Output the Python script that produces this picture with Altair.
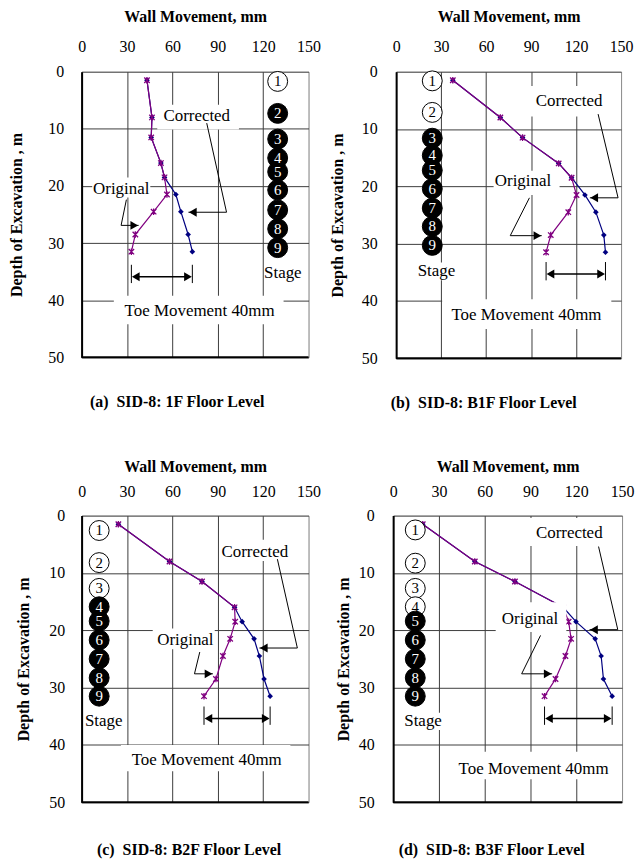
import altair as alt
import pandas as pd

FONT = "Liberation Serif"

# ---------------- data ----------------
DEPTH_M = [1.5, 8.0, 11.5, 16.0, 18.5, 21.5, 24.5, 28.5, 31.5]
STAGES = ["1", "2", "3", "4", "5", "6", "7", "8", "9"]

ORIGINAL_A = [43.2, 46.5, 46.0, 52.4, 54.8, 56.4, 47.6, 35.5, 32.9]
CORRECTED_A = [43.2, 46.5, 46.0, 52.4, 54.8, 62.3, 65.6, 70.4, 73.2]
ORIGINAL_B = [37.8, 69.5, 84.3, 108.4, 117.0, 120.3, 114.8, 103.1, 100.0]
CORRECTED_B = [37.8, 69.5, 84.3, 108.4, 117.0, 125.9, 133.2, 138.5, 139.6]
ORIGINAL_C = [24.3, 58.1, 79.6, 101.1, 101.5, 98.2, 93.4, 88.8, 80.9]
CORRECTED_C = [24.3, 58.1, 79.6, 101.1, 106.1, 114.0, 117.5, 120.6, 124.6]
ORIGINAL_D = [19.4, 53.5, 79.8, 111.4, 115.0, 116.6, 112.9, 106.4, 99.2]
CORRECTED_D = [19.4, 53.5, 79.8, 111.4, 119.8, 132.4, 136.3, 137.8, 143.5]

STAGE_DEPTH_A = [1.7, 7.3, 11.8, 15.1, 17.5, 20.7, 24.2, 27.5, 30.8]
STAGE_DEPTH_B = [1.6, 7.1, 11.6, 14.6, 17.2, 20.4, 23.8, 27.0, 30.3]
STAGE_DEPTH_C = [2.6, 8.2, 12.7, 15.9, 18.4, 21.7, 25.0, 28.3, 31.5]
STAGE_DEPTH_D = [2.5, 8.3, 12.7, 15.9, 18.4, 21.7, 25.0, 28.3, 31.5]
OPEN_STAGE_COUNT = [1, 2, 3, 4]

X_TICKS = [0, 30, 60, 90, 120, 150]
Y_TICKS = [0, 10, 20, 30, 40, 50]
CAPTIONS = [
    "(a) \u00a0SID-8: 1F Floor Level",
    "(b) \u00a0SID-8: B1F Floor Level",
    "(c) \u00a0SID-8: B2F Floor Level",
    "(d) \u00a0SID-8: B3F Floor Level",
]
X_TITLE = "Wall Movement, mm"
Y_TITLE = "Depth of Excavation , m"
TOE_LABEL = "Toe Movement 40mm"

# ---------------- annotation placement (data units) ----------------
PANELS = [
    dict(orig=ORIGINAL_A, corr=CORRECTED_A, sdepth=STAGE_DEPTH_A, n_open=OPEN_STAGE_COUNT[0],
         stage_x=129.6, stage_label=(133.0, 35.3), stage_box=None,
         corr_text=(76.1, 7.8), corr_box=(50.0, 104.0, 5.8, 10.1),
         corr_path=[(82.7, 9.0), (95.8, 24.6), (70.6, 24.6)],
         orig_text=(26.2, 20.6), orig_box=(7.0, 45.4, 18.5, 22.0),
         orig_path=[(29.6, 22.4), (26.1, 26.9), (37.7, 26.9)],
         toe_y=35.9, toe_text=(78.0, 41.9), toe_box=(21.3, 133.5, 39.2, 44.2),
         width=228, height=287, ylab_pad=18, ytitle_pad=23.6, xlab_pad=17, xtitle_pad=14,
         cap_dx=-18, cap_off=29),
    dict(orig=ORIGINAL_B, corr=CORRECTED_B, sdepth=STAGE_DEPTH_B, n_open=OPEN_STAGE_COUNT[1],
         stage_x=24.1, stage_label=(26.9, 34.8), stage_box=(14.6, 39.6, 33.3, 36.4),
         corr_text=(115.3, 5.2), corr_box=(89.6, 140.0, 2.5, 7.8),
         corr_path=[(134.7, 7.4), (148.0, 22.0), (129.2, 22.0)],
         orig_text=(84.6, 19.1), orig_box=(65.0, 109.0, 17.3, 21.5),
         orig_path=[(88.9, 22.0), (76.1, 28.6), (97.1, 28.6)],
         toe_y=35.3, toe_text=(86.9, 42.4), toe_box=(30.7, 143.5, 39.7, 44.9),
         width=226, height=288, ylab_pad=19, ytitle_pad=15.9, xlab_pad=17, xtitle_pad=14,
         cap_dx=-25, cap_off=29),
    dict(orig=ORIGINAL_C, corr=CORRECTED_C, sdepth=STAGE_DEPTH_C, n_open=OPEN_STAGE_COUNT[2],
         stage_x=11.6, stage_label=(14.6, 35.9), stage_box=None,
         corr_text=(114.5, 6.4), corr_box=(91.0, 138.0, 4.2, 7.9),
         corr_path=[(129.4, 7.6), (142.6, 23.1), (117.5, 23.1)],
         orig_text=(68.6, 21.7), orig_box=(47.0, 88.0, 19.7, 23.3),
         orig_path=[(78.1, 23.8), (74.6, 27.6), (86.8, 27.6)],
         toe_y=35.4, toe_text=(82.7, 42.6), toe_box=(26.0, 138.0, 40.0, 44.6),
         width=228, height=288, ylab_pad=17, ytitle_pad=17.3, xlab_pad=16, xtitle_pad=9,
         cap_dx=-6, cap_off=32),
    dict(orig=ORIGINAL_D, corr=CORRECTED_D, sdepth=STAGE_DEPTH_D, n_open=OPEN_STAGE_COUNT[3],
         stage_x=14.5, stage_label=(19.6, 35.9), stage_box=(7.4, 32.4, 34.4, 37.4),
         corr_text=(115.4, 3.0), corr_box=(86.0, 145.0, 0.4, 5.3),
         corr_path=[(134.6, 5.4), (147.2, 19.9), (128.7, 19.9)],
         orig_text=(89.7, 18.1), orig_box=(67.2, 113.5, 15.1, 20.3),
         orig_path=[(96.6, 20.9), (84.2, 27.6), (104.2, 27.6)],
         toe_y=35.4, toe_text=(92.0, 44.2), toe_box=(34.6, 146.8, 41.2, 46.0),
         width=230, height=288, ylab_pad=19, ytitle_pad=6.6, xlab_pad=16, xtitle_pad=9,
         cap_dx=-16, cap_off=32),
]

ASTERISK = "M-1,-1L1,1M-1,1L1,-1M0,-1.2L0,1.2"
HEAD = 2.9  # arrow head half-length in mm
XS = alt.Scale(domain=[0, 150], nice=False, zero=False)
YS = alt.Scale(domain=[0, 50], nice=False, zero=False, reverse=True)
GRID = "#3c3c3c"


def panel(p, caption):
    xa = alt.Axis(orient="top", values=X_TICKS, format="d", title=X_TITLE,
                  titleFont=FONT, titleFontSize=16, titleFontWeight="bold", titleColor="black",
                  titlePadding=p["xtitle_pad"], labelFont=FONT, labelFontSize=16,
                  labelColor="black", labelPadding=p["xlab_pad"], ticks=False, domain=False,
                  labelFlush=False, labelOverlap=False, grid=True,
                  gridColor={"condition": {"test": "datum.value === 150", "value": "#8c8c8c"},
                             "value": GRID},
                  gridWidth=1)
    ya = alt.Axis(orient="left", values=Y_TICKS, format="d", title=Y_TITLE,
                  titleFont=FONT, titleFontSize=16, titleFontWeight="bold", titleColor="black",
                  titlePadding=p["ytitle_pad"], labelFont=FONT, labelFontSize=16,
                  labelColor="black", labelPadding=p["ylab_pad"], ticks=False, domain=True,
                  domainColor="black", domainWidth=2, labelFlush=False, labelOverlap=False,
                  grid=True, gridColor=GRID, gridWidth=1)

    def X(f):
        return alt.X(f, type="quantitative", scale=XS, axis=xa)

    def Y(f):
        return alt.Y(f, type="quantitative", scale=YS, axis=ya)

    ser = pd.DataFrame({"idx": list(range(len(DEPTH_M))), "depth": DEPTH_M,
                        "orig": p["orig"], "corr": p["corr"]})

    corr_line = alt.Chart(ser).mark_line(color="#000080", strokeWidth=1.2).encode(
        x=X("corr"), y=Y("depth"), order="idx:Q")
    corr_pts = alt.Chart(ser).mark_point(shape="diamond", filled=True, color="#000080",
                                         size=32, opacity=1).encode(x=X("corr"), y=Y("depth"))
    orig_line = alt.Chart(ser).mark_line(color="#800080", strokeWidth=1.2).encode(
        x=X("orig"), y=Y("depth"), order="idx:Q")
    orig_pts = alt.Chart(ser).mark_point(shape=ASTERISK, filled=False, color="#800080",
                                         size=30, strokeWidth=1.3, opacity=1).encode(
        x=X("orig"), y=Y("depth"))

    # white label boxes
    bl = [p["corr_box"], p["orig_box"], p["toe_box"]]
    if p["stage_box"] is not None:
        bl.append(p["stage_box"])
    boxes = pd.DataFrame({"x": [b[0] for b in bl], "x2": [b[1] for b in bl],
                          "y": [b[2] for b in bl], "y2": [b[3] for b in bl]})
    box_layer = alt.Chart(boxes).mark_rect(color="white", opacity=1).encode(
        x=X("x"), x2="x2", y=Y("y"), y2="y2")

    # stage circles
    n_open = p["n_open"]
    st = pd.DataFrame({"x": [p["stage_x"]] * len(STAGES), "depth": p["sdepth"], "label": STAGES,
                       "fill": ["white" if i < n_open else "black" for i in range(len(STAGES))],
                       "tcol": ["black" if i < n_open else "white" for i in range(len(STAGES))]})
    circles = alt.Chart(st).mark_point(shape="circle", filled=True, size=400, stroke="black",
                                       strokeWidth=1, opacity=1).encode(
        x=X("x"), y=Y("depth"), fill=alt.Fill("fill:N", scale=None))
    numbers = alt.Chart(st).mark_text(font=FONT, fontSize=15, align="center",
                                      baseline="middle").encode(
        x=X("x"), y=Y("depth"), text="label:N", color=alt.Color("tcol:N", scale=None))

    # leader segments
    segs = []
    for path in (p["corr_path"], p["orig_path"]):
        for (a, b) in zip(path[:-1], path[1:]):
            segs.append((a[0], a[1], b[0], b[1]))
    ot, ct, ty = p["orig"][-1], p["corr"][-1], p["toe_y"]
    segs.append((ot, ty - 2.1, ot, ty + 1.1))
    segs.append((ct, ty - 2.1, ct, ty + 1.1))
    seg_df = pd.DataFrame({"x": [s[0] for s in segs], "y": [s[1] for s in segs],
                           "x2": [s[2] for s in segs], "y2": [s[3] for s in segs]})
    seg_layer = alt.Chart(seg_df).mark_rule(color="black", strokeWidth=1).encode(
        x=X("x"), y=Y("y"), x2="x2", y2="y2")
    toe_df = pd.DataFrame({"x": [ot + HEAD], "y": [ty], "x2": [ct - HEAD], "y2": [ty]})
    toe_layer = alt.Chart(toe_df).mark_rule(color="black", strokeWidth=1.6).encode(
        x=X("x"), y=Y("y"), x2="x2", y2="y2")

    ce, oe = p["corr_path"][-1], p["orig_path"][-1]
    heads = pd.DataFrame({
        "x": [ce[0] + HEAD, oe[0] - HEAD, ot + HEAD, ct - HEAD],
        "y": [ce[1], oe[1], ty, ty],
        "shape": ["triangle-left", "triangle-right", "triangle-left", "triangle-right"],
    })
    head_layer = alt.Chart(heads).mark_point(filled=True, color="black", size=80,
                                             opacity=1, strokeWidth=0).encode(
        x=X("x"), y=Y("y"), shape=alt.Shape("shape:N", scale=None))

    texts = pd.DataFrame({
        "x": [p["corr_text"][0], p["orig_text"][0], p["toe_text"][0], p["stage_label"][0]],
        "y": [p["corr_text"][1], p["orig_text"][1], p["toe_text"][1], p["stage_label"][1]],
        "label": ["Corrected", "Original", TOE_LABEL, "Stage"],
    })
    text_layer = alt.Chart(texts).mark_text(font=FONT, fontSize=17, color="black",
                                            align="center", baseline="middle").encode(
        x=X("x"), y=Y("y"), text="label:N")

    border = pd.DataFrame({"x": [0], "x2": [150], "y": [50], "y2": [50]})
    border_layer = alt.Chart(border).mark_rule(color="black", strokeWidth=2).encode(
        x=X("x"), y=Y("y"), x2="x2", y2="y2")

    return alt.layer(
        corr_line, corr_pts, orig_line, orig_pts, box_layer, circles, numbers,
        seg_layer, toe_layer, head_layer, text_layer, border_layer
    ).properties(
        width=p["width"], height=p["height"],
        title=alt.TitleParams(text=caption, orient="bottom", anchor="middle", frame="group",
                              dx=p["cap_dx"], offset=p["cap_off"], font=FONT, fontSize=16,
                              fontWeight="bold", color="black", baseline="top"),
    )


charts = [panel(p, c) for p, c in zip(PANELS, CAPTIONS)]
row1 = alt.hconcat(charts[0], charts[1], spacing=88, bounds="flush")
row2 = alt.hconcat(charts[2], charts[3], spacing=85, bounds="flush")
chart = alt.vconcat(row1, row2, spacing=46, bounds="full").properties(
    padding={"left": 7, "top": 6, "right": 0, "bottom": 0}
).configure_view(stroke="#8c8c8c", strokeWidth=1).configure(background="white")

chart.save("out.html", embed_options={"renderer": "svg", "actions": False})
